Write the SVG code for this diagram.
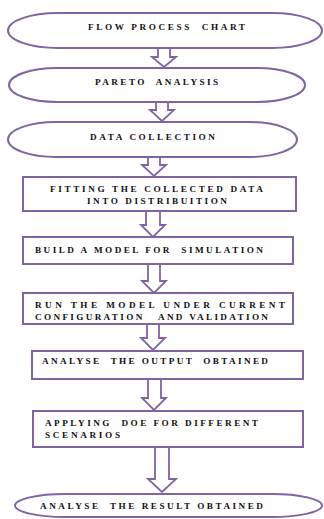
<svg xmlns="http://www.w3.org/2000/svg" width="324" height="519" viewBox="0 0 324 519">
<style>
.n{fill:#fff;stroke:#8064a2;stroke-width:2}
.t{font-family:"Liberation Serif","Times New Roman",serif;font-weight:bold;font-size:9.2px;fill:#111;white-space:pre}
.a{fill:#fff;stroke:#8064a2;stroke-width:1.8;stroke-linejoin:miter}
</style>
<rect width="324" height="519" fill="#fff"/>
<g id="connectors">
<path class="a" d="M158,48 V57 H152 L164,67 L176,57 H170 V48"/>
<path class="a" d="M156,102 V110 H150 L162,121 L174,110 H168 V102"/>
<path class="a" d="M148,157 V165 H142 L154,176 L166,165 H160 V157"/>
<path class="a" d="M146,211 V225 H141 L153,237 L165,225 H160 V211"/>
<path class="a" d="M148,264 V281 H142 L154,293 L166,281 H160 V264"/>
<path class="a" d="M147,324 V338 H141 L153,350 L165,338 H159 V324"/>
<path class="a" d="M148,379 V398 H142 L154,410 L166,398 H161 V379"/>
<path class="a" d="M155,447 V479 H148 L162,492 L176,479 H169 V447"/>
</g>
<g id="n1"><rect class="n" x="8" y="13" width="314" height="35" rx="50" ry="17.5"/><text class="t" x="88" y="29.5" textLength="157" lengthAdjust="spacing">FLOW PROCESS  CHART</text></g>
<g id="n2"><rect class="n" x="9" y="68" width="296" height="34" rx="48" ry="17"/><text class="t" x="95" y="84.5" textLength="123" lengthAdjust="spacing">PARETO  ANALYSIS</text></g>
<g id="n3"><rect class="n" x="8" y="122" width="289" height="35" rx="48" ry="17.5"/><text class="t" x="90" y="139.5" textLength="125" lengthAdjust="spacing">DATA COLLECTION</text></g>
<g id="n4"><rect class="n" x="23" y="177" width="273" height="34"/><text class="t" x="50" y="191.5" textLength="213" lengthAdjust="spacing">FITTING THE COLLECTED DATA</text><text class="t" x="87" y="203.5" textLength="140" lengthAdjust="spacing">INTO DISTRIBUITION</text></g>
<g id="n5"><rect class="n" x="23" y="237" width="270" height="27"/><text class="t" x="35" y="252.5" textLength="228" lengthAdjust="spacing">BUILD A MODEL FOR  SIMULATION</text></g>
<g id="n6"><rect class="n" x="23" y="293" width="270" height="31"/><text class="t" x="35" y="307.5" textLength="250" lengthAdjust="spacing">RUN THE MODEL UNDER CURRENT</text><text class="t" x="35" y="319.5" textLength="233" lengthAdjust="spacing">CONFIGURATION   AND VALIDATION</text></g>
<g id="n7"><rect class="n" x="32" y="351" width="271" height="28"/><text class="t" x="42" y="363.5" textLength="226" lengthAdjust="spacing">ANALYSE  THE OUTPUT  OBTAINED</text></g>
<g id="n8"><rect class="n" x="33" y="411" width="270" height="36"/><text class="t" x="45" y="425.5" textLength="213" lengthAdjust="spacing">APPLYING  DOE FOR DIFFERENT</text><text class="t" x="45" y="437.5" textLength="75" lengthAdjust="spacing">SCENARIOS</text></g>
<g id="n9"><rect class="n" x="15" y="494" width="307" height="23" rx="50" ry="11.5"/><text class="t" x="40" y="508.5" textLength="223" lengthAdjust="spacing">ANALYSE  THE RESULT OBTAINED</text></g>
</svg>
